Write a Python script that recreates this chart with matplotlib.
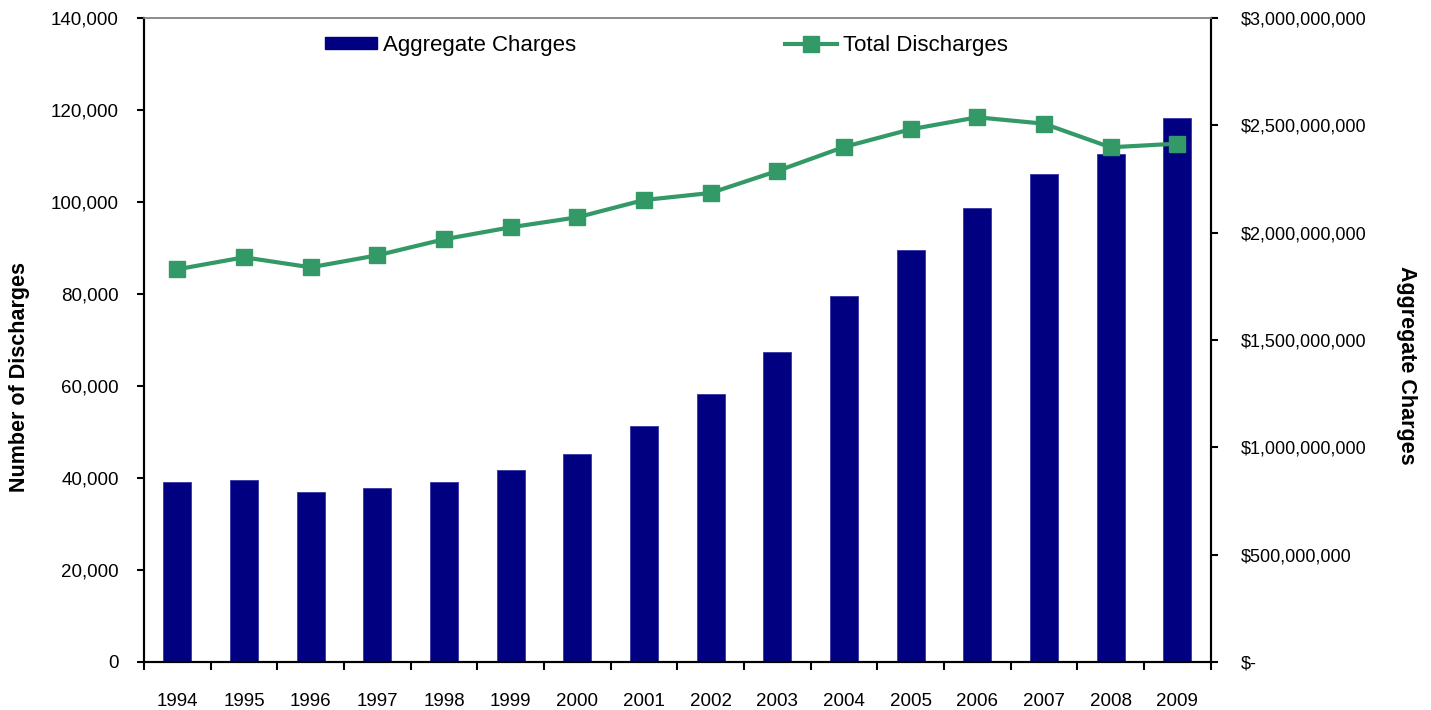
import matplotlib
matplotlib.use("Agg")
import matplotlib.pyplot as plt
from matplotlib.ticker import FuncFormatter, FixedLocator
from matplotlib.lines import Line2D
from matplotlib.patches import Patch
import numpy as np

plt.rcParams['font.family'] = ['Liberation Sans', 'DejaVu Sans']

years = ['1994', '1995', '1996', '1997', '1998', '1999', '2000', '2001',
         '2002', '2003', '2004', '2005', '2006', '2007', '2008', '2009']
aggregate_charges = [840e6, 848e6, 793e6, 812e6, 840e6, 894e6, 969e6, 1099e6,
                     1248e6, 1444e6, 1705e6, 1919e6, 2113e6, 2272e6, 2365e6, 2533e6]
total_discharges = [85370, 87980, 85800, 88410, 91890, 94500, 96670, 100430,
                    101960, 106740, 111960, 115800, 118410, 117030, 111890, 112680]

bar_color = '#000080'
line_color = '#339966'

fig = plt.figure(figsize=(14.31, 7.10), dpi=100)
ax = fig.add_axes([144/1431, 1 - 662/710, (1210.5 - 144)/1431, (662 - 18)/710])
ax2 = ax.twinx()

x = np.arange(len(years))

# bars on right axis (behind)
ax2.bar(x, aggregate_charges, width=0.42, color=bar_color, edgecolor='#3535a5', linewidth=0.6)
ax2.set_ylim(0, 3e9)
ax2.set_yticks(np.arange(0, 3e9 + 1, 5e8))
ax2.yaxis.set_major_formatter(FuncFormatter(lambda v, p: '$-' if v == 0 else '${:,.0f}'.format(v)))
for lab in ax2.get_yticklabels():
    lab.set_horizontalalignment('left')

# line on left axis (front)
ax.set_zorder(ax2.get_zorder() + 1)
ax.patch.set_visible(False)
ax.plot(x, total_discharges, color=line_color, linewidth=3, marker='s', markersize=12,
        markeredgecolor=line_color, markerfacecolor=line_color, zorder=5)
ax.set_ylim(0, 140000)
ax.set_yticks(np.arange(0, 140001, 20000))
ax.yaxis.set_major_formatter(FuncFormatter(lambda v, p: '{:,.0f}'.format(v)))
ax.set_xlim(-0.5, len(years) - 0.5)
ax.set_xticks(x)
ax.set_xticklabels(years)
ax.xaxis.set_minor_locator(FixedLocator(np.arange(-0.5, len(years), 1.0)))

ax.tick_params(axis='x', which='major', length=0, pad=22, labelsize=13.5)
ax.tick_params(axis='x', which='minor', length=6, width=1.5, direction='out', color='black')
ax.tick_params(axis='y', length=5, width=1.5, direction='out', labelsize=13.5, pad=13)
ax2.tick_params(axis='y', length=5, width=1.5, direction='out', labelsize=13, pad=17)

for a in (ax, ax2):
    a.spines['top'].set_color('#8c8c8c')
    a.spines['top'].set_linewidth(1.2)
    a.spines['left'].set_linewidth(1.5)
    a.spines['right'].set_linewidth(1.5)
    a.spines['bottom'].set_linewidth(1.5)

fig.text(20/1431, 1 - 377/710, 'Number of Discharges', rotation=90, fontsize=15.5,
         fontweight='bold', ha='center', va='center')
fig.text(1406/1431, 1 - 365/710, 'Aggregate Charges', rotation=270, fontsize=15.5,
         fontweight='bold', ha='center', va='center')

handles = [Patch(facecolor=bar_color, edgecolor=bar_color),
           Line2D([0], [0], color=line_color, linewidth=3, marker='s', markersize=12)]
fig.legend(handles, ['Aggregate Charges', 'Total Discharges'], loc='center left',
           bbox_to_anchor=(325/1431, 1 - 45/710), ncol=2, frameon=False, fontsize=16,
           borderpad=0, borderaxespad=0, handlelength=2.35, handleheight=0.45,
           handletextpad=0.25, columnspacing=9.4)

fig.savefig('out.png', dpi=100)
